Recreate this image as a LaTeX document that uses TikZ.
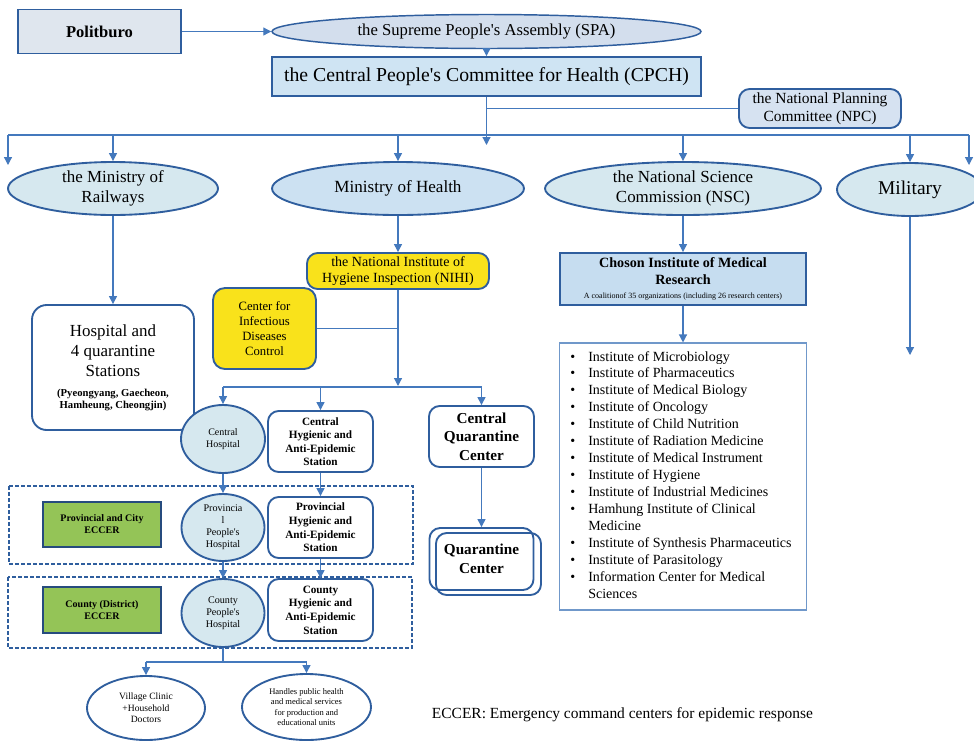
\documentclass[tikz,border=0pt]{standalone}
\usepackage{fontspec}
\setmainfont{Liberation Serif}
\usetikzlibrary{arrows.meta,shapes.geometric}
\newdimen\pxu \pxu=0.75pt
\newcommand{\myfs}[2]{\fontsize{#1}{#2}\selectfont}
\newcommand{\apo}{\textquotesingle}
\definecolor{lineblue}{HTML}{4479BD}
\definecolor{bordblue}{HTML}{2F5E9E}
\definecolor{cPolit}{HTML}{DFE6EE}
\definecolor{cSPA}{HTML}{D3DEED}
\definecolor{cCPCH}{HTML}{CFE4F3}
\definecolor{cNPC}{HTML}{D6E2F1}
\definecolor{cEll}{HTML}{D6E8EF}
\definecolor{cMoH}{HTML}{CCE1F2}
\definecolor{cYel}{HTML}{F9E21B}
\definecolor{cChos}{HTML}{C6DDF0}
\definecolor{cGreen}{HTML}{94C457}
\definecolor{listbord}{HTML}{7098CA}
\tikzset{
  sz/.style 2 args={minimum width=#1\pxu,minimum height=#2\pxu},
  base/.style={draw=bordblue,line width=1.4pt,inner sep=0pt,align=center,text=black},
  rectbox/.style={base},
  rbox/.style={base,rounded corners=8pt},
  ell/.style={base,ellipse},
  ln/.style={draw=lineblue,line width=0.9pt},
  arr/.style={ln,-{Triangle[width=6pt,length=6pt]}},
  dbox/.style={draw=bordblue,line width=1.2pt,dash pattern=on 3pt off 1.5pt},
}
\begin{document}
\begin{tikzpicture}[x=0.75pt,y=-0.75pt]
\useasboundingbox (0,0) rectangle (974,740);
\clip (0,0) rectangle (974,740);
\fill[white] (0,0) rectangle (974,740);

% top
\node[rectbox,fill=cPolit,sz={163}{44},font=\bfseries\myfs{12.4}{14}] (polit) at (99.5,31.5) {Politburo};
\node[ell,fill=cSPA,sz={429}{34},line width=1.1pt,font=\myfs{12.5}{14}] (spa) at (486.5,31.5) {the Supreme People\apo s Assembly (SPA)};
\node[rectbox,fill=cCPCH,sz={429}{39},font=\myfs{14.8}{17}] (cpch) at (486.5,76.5) {the Central People\apo s Committee for Health (CPCH)};
\node[rbox,fill=cNPC,sz={162}{39},font=\myfs{11.6}{13.5}] (npc) at (820,108.5) {the National Planning\\Committee (NPC)};

% ministries
\node[ell,fill=cEll,sz={210}{53},font=\myfs{12.7}{15}] (rail) at (113,188.5) {the Ministry of\\Railways};
\node[ell,fill=cMoH,sz={252}{53},font=\myfs{12.8}{15}] (moh) at (398,188.5) {Ministry of Health};
\node[ell,fill=cEll,sz={276}{53},font=\myfs{12.7}{15}] (nsc) at (683,188.5) {the National Science\\Commission (NSC)};
\node[ell,fill=cEll,sz={146}{53},font=\myfs{14.6}{16}] (mil) at (910,189.5) {Military};

% railways branch
\node[rbox,fill=white,sz={162}{125},rounded corners=11pt,font=\myfs{12.7}{15}] (hosp) at (113,367.5)
  {Hospital and\\4 quarantine\\Stations\\[0pt]{\bfseries\myfs{8}{9}(Pyeongyang, Gaecheon,}\\[-6pt]{\bfseries\myfs{8}{9}Hamheung, Cheongjin)}};

% health branch
\node[rbox,fill=cYel,sz={182}{36},font=\myfs{10.5}{12.5}] (nihi) at (398,271) {the National Institute of\\Hygiene Inspection (NIHI)};
\node[rbox,fill=cYel,sz={103}{81},rounded corners=9pt,font=\myfs{9.5}{11.3}] (cidc) at (264.5,328.5) {Center for\\Infectious\\Diseases\\Control};

\node[ell,fill=cEll,sz={84}{68},font=\myfs{7.5}{9}] (chosp) at (223,439) {Central\\Hospital};
\node[rbox,fill=white,sz={105}{61},font=\bfseries\myfs{8.4}{10}] (chyg) at (320.5,441.5) {Central\\Hygienic and\\Anti-Epidemic\\Station};
\node[rbox,fill=white,sz={105}{61},font=\bfseries\myfs{11.4}{14}] (cqc) at (481.5,436.5) {Central\\Quarantine\\Center};

\node[rbox,sz={104}{62},font=\bfseries\myfs{11.4}{14}] (qc) at (481.5,559) {Quarantine\\Center};
\node[rbox,sz={105}{62}] (qcb) at (488.5,564) {};

% provincial level
\draw[dbox] (9,486) rectangle (413,564);
\node[rectbox,fill=cGreen,sz={118}{45},line width=1.2pt,draw=bordblue!80!black,font=\bfseries\myfs{7.5}{9}] (g1) at (102,524.5) {Provincial and City\\ECCER};
\node[ell,fill=cEll,sz={83}{67},font=\myfs{7.6}{9}] (phosp) at (223,527.5) {Provincia\\l\\People\apo s\\Hospital};
\node[rbox,fill=white,sz={105}{61},font=\bfseries\myfs{8.4}{10.2}] (phyg) at (320.5,527.5) {Provincial\\Hygienic and\\Anti-Epidemic\\Station};

% county level
\draw[dbox] (8,577) rectangle (412,648);
\node[rectbox,fill=cGreen,sz={118}{46},line width=1.2pt,draw=bordblue!80!black,font=\bfseries\myfs{7.5}{9}] (g2) at (102,610) {County (District)\\ECCER};
\node[ell,fill=cEll,sz={83}{68},font=\myfs{7.6}{9}] (cohosp) at (223,613) {County\\People\apo s\\Hospital};
\node[rbox,fill=white,sz={105}{62},font=\bfseries\myfs{8.4}{10.2}] (cohyg) at (320.5,610) {County\\Hygienic and\\Anti-Epidemic\\Station};

\node[ell,fill=white,sz={118}{64},font=\myfs{7.2}{8.6}] (vill) at (146,708) {Village Clinic\\+Household\\Doctors};
\node[ell,fill=white,sz={129}{66},font=\myfs{6.4}{7.8}] (hand) at (306.5,707) {Handles public health\\and medical services\\for production and\\educational units};

\node[inner sep=0pt,font=\myfs{11.6}{14}] (legend) at (622.5,715) {ECCER: Emergency command centers for epidemic response};

% NSC branch
\node[rectbox,fill=cChos,sz={246}{52},font=\myfs{10.6}{12.75}] (chos) at (683,279)
  {\textbf{Choson Institute of Medical}\\\textbf{Research}\\[-2.5pt]{\myfs{6}{7}A coalitionof 35 organizations (including 26 research centers)}};
\node[draw=listbord,line width=0.8pt,sz={247}{267},inner sep=0pt] (list) at (683,476.5) {};
\node[anchor=base west,inner sep=0pt,font=\myfs{10.5}{12.7}] (items) at (570,361)
  {\begin{tabular}[t]{@{}p{13.5pt}@{}l@{}}
  \textbullet & Institute of Microbiology\\
  \textbullet & Institute of Pharmaceutics\\
  \textbullet & Institute of Medical Biology\\
  \textbullet & Institute of Oncology\\
  \textbullet & Institute of Child Nutrition\\
  \textbullet & Institute of Radiation Medicine\\
  \textbullet & Institute of Medical Instrument\\
  \textbullet & Institute of Hygiene\\
  \textbullet & Institute of Industrial Medicines\\
  \textbullet & Hamhung Institute of Clinical\\
   & Medicine\\
  \textbullet & Institute of Synthesis Pharmaceutics\\
  \textbullet & Institute of Parasitology\\
  \textbullet & Information Center for Medical\\
   & Sciences
  \end{tabular}};

% coordinates
\coordinate (busL) at (8,135);
\coordinate (busR) at (969,135);
\coordinate (cpchEnd) at (486.5,145);
\coordinate (leftEnd) at (8,165);
\coordinate (rightEnd) at (969,165);
\coordinate (milEnd) at (910,355);
\coordinate (nihiEnd) at (398,386);
\coordinate (bus2) at (398,387);
\coordinate (bus3) at (223,662);

% connectors
\draw[arr] (polit.east) -- (spa.west);
\draw[arr] (spa.south) -- (cpch.north);
\draw[arr] (cpch.south) -- (cpchEnd);
\draw[ln] (npc.west) -- (npc.west -| cpch.south);
\draw[ln] (busL) -- (busR);
\draw[arr] (busL) -- (leftEnd);
\draw[arr] (busR) -- (rightEnd);
\draw[arr] (busL -| rail.north) -- (rail.north);
\draw[arr] (busL -| moh.north) -- (moh.north);
\draw[arr] (busL -| nsc.north) -- (nsc.north);
\draw[arr] (busL -| mil.north) -- (mil.north);
\draw[arr] (rail.south) -- (hosp.north);
\draw[arr] (moh.south) -- (nihi.north);
\draw[arr] (nihi.south) -- (nihiEnd);
\draw[ln] (cidc.east) -- (cidc.east -| nihi.south);
\draw[ln] (bus2 -| chosp.north) -- (bus2 -| cqc.north);
\draw[arr] (bus2 -| chosp.north) -- (chosp.north);
\draw[arr] (bus2 -| chyg.north) -- (chyg.north);
\draw[arr] (bus2 -| cqc.north) -- (cqc.north);
\draw[arr] (cqc.south) -- (qc.north);
\draw[arr] (chosp.south) -- (phosp.north);
\draw[arr] (chyg.south) -- (phyg.north);
\draw[arr] (phosp.south) -- (cohosp.north);
\draw[arr] (phyg.south) -- (cohyg.north);
\draw[ln] (cohosp.south) -- (bus3);
\draw[ln] (bus3 -| vill.north) -- (bus3 -| hand.north);
\draw[arr] (bus3 -| vill.north) -- (vill.north);
\draw[arr] (bus3 -| hand.north) -- (hand.north);
\draw[arr] (nsc.south) -- (chos.north);
\draw[arr] (chos.south) -- (list.north);
\draw[arr] (mil.south) -- (milEnd);
\end{tikzpicture}
\end{document}
